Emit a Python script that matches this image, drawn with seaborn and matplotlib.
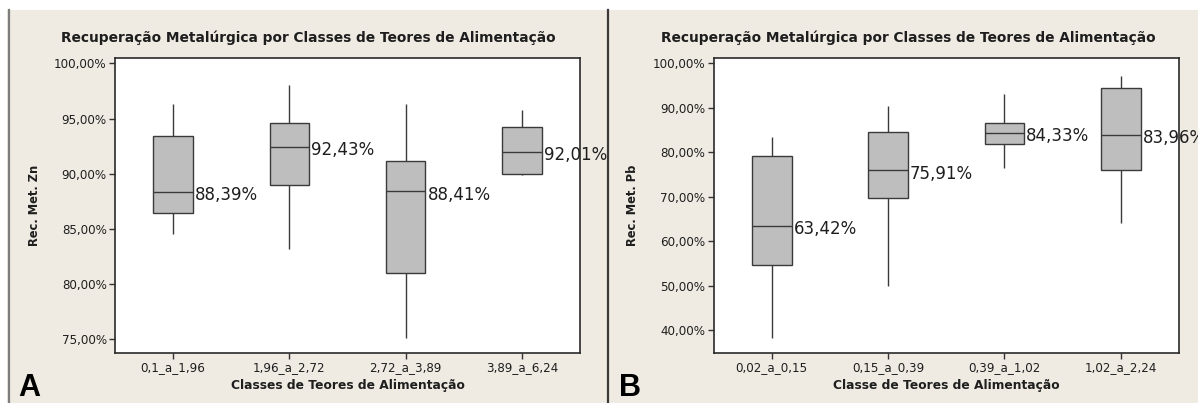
import numpy as np
import pandas as pd
import matplotlib
matplotlib.use("Agg")
import matplotlib.pyplot as plt
import seaborn as sns
from matplotlib.patches import Rectangle
from matplotlib.lines import Line2D
from matplotlib.ticker import FuncFormatter, FixedLocator

# ---------------- data (five-number summaries) ----------------
zn_classes = ["0,1_a_1,96", "1,96_a_2,72", "2,72_a_3,89", "3,89_a_6,24"]
zn_min = [84.50, 83.15, 75.15, 89.88]
zn_q1 = [86.41, 88.95, 81.04, 90.02]
zn_median = [88.39, 92.43, 88.41, 92.01]
zn_q3 = [93.45, 94.63, 91.12, 94.26]
zn_max = [96.29, 98.01, 96.35, 95.80]

pb_classes = ["0,02_a_0,15", "0,15_a_0,39", "0,39_a_1,02", "1,02_a_2,24"]
pb_min = [38.10, 49.97, 76.40, 64.15]
pb_q1 = [54.70, 69.60, 81.78, 76.00]
pb_median = [63.42, 75.91, 84.33, 83.96]
pb_q3 = [79.15, 84.55, 86.57, 94.40]
pb_max = [83.50, 90.40, 93.00, 97.05]

zn_ticks = [75, 80, 85, 90, 95, 100]
pb_ticks = [40, 50, 60, 70, 80, 90, 100]

title_text = "Recuperação Metalúrgica por Classes de Teores de Alimentação"

# ---------------- styling ----------------
plt.rcParams["font.family"] = ["DejaVu Sans"]
W, H = 1198, 403
BEIGE = "#efebe2"
BOX = "#bebebe"
LINE = "#3a3a3a"
TXT = "#1e1e1e"

fig = plt.figure(figsize=(W / 100, H / 100), dpi=100, facecolor=BEIGE)

def fx(x):
    return x / W

def fy(y):
    return 1 - y / H

# white margins, frame lines
fig.patches.append(Rectangle((0, fy(10)), 1, 10 / H, transform=fig.transFigure,
                             facecolor="white", edgecolor="none", zorder=0))
fig.patches.append(Rectangle((0, 0), 7 / W, 1, transform=fig.transFigure,
                             facecolor="white", edgecolor="none", zorder=0))
fig.lines.append(Line2D([fx(8.5), fx(8.5)], [0, fy(10)], transform=fig.transFigure,
                        color="#7d7d7d", lw=1.6))
fig.lines.append(Line2D([fx(607.5), fx(607.5)], [0, fy(10)], transform=fig.transFigure,
                        color="#3a3a3a", lw=1.6))

pct_fmt = FuncFormatter(lambda v, _: f"{v:.2f}".replace(".", ",") + "%")


def draw_panel(ax, classes, mins, q1, med, q3, maxs, ylim, ticks,
               ylabel, xlabel, title_cx, letter, letter_x):
    df = pd.DataFrame({
        "classe": np.repeat(classes, 5),
        "rec": np.column_stack([mins, q1, med, q3, maxs]).ravel(),
    })
    sns.boxplot(data=df, x="classe", y="rec", order=classes, whis=(0, 100),
                width=0.34, color=BOX, linecolor=LINE, linewidth=1.0,
                saturation=1, showcaps=False, ax=ax)
    ax.set_facecolor("white")
    ax.set_xlim(-0.5, 3.5)
    ax.set_ylim(*ylim)
    ax.yaxis.set_major_locator(FixedLocator(ticks))
    ax.yaxis.set_major_formatter(pct_fmt)
    for s in ax.spines.values():
        s.set_visible(True)
        s.set_color("#2a2a2a")
        s.set_linewidth(1.2)
    ax.tick_params(axis="both", direction="out", length=4, width=1.0,
                   color="#333333", labelsize=8.6, labelcolor=TXT, pad=2)
    ax.set_ylabel(ylabel, fontsize=8.3, fontweight="bold", color=TXT)
    ax.yaxis.label.set_va("center")
    ax.yaxis.set_label_coords(-0.174, 0.5)
    ax.set_xlabel(xlabel, fontsize=8.8, fontweight="bold", color=TXT)
    ax.xaxis.label.set_va("center")
    ax.xaxis.set_label_coords(0.5, -0.11)
    for i, m in enumerate(med):
        ax.annotate(f"{m:.2f}".replace(".", ",") + "%", xy=(i + 0.17, m),
                    xytext=(1.5, -6), textcoords="offset points",
                    ha="left", va="baseline", fontsize=12, color=TXT,
                    annotation_clip=False)
    fig.text(fx(title_cx), fy(38), title_text, ha="center", va="center",
             fontsize=9.9, fontweight="bold", color=TXT)
    fig.text(fx(letter_x), fy(396.5), letter, ha="left", va="baseline",
             fontsize=22, fontweight="bold", family=["Liberation Sans", "DejaVu Sans"],
             color="black")


axA = fig.add_axes([fx(115), fy(352.7), 465 / W, 295 / H])
draw_panel(axA, zn_classes, zn_min, zn_q1, zn_median, zn_q3, zn_max,
           (73.79, 100.51), zn_ticks, "Rec. Met. Zn",
           "Classes de Teores de Alimentação", 308, "A", 18)

axB = fig.add_axes([fx(713.6), fy(352.7), 465.4 / W, 295 / H])
draw_panel(axB, pb_classes, pb_min, pb_q1, pb_median, pb_q3, pb_max,
           (34.9, 101.27), pb_ticks, "Rec. Met. Pb",
           "Classe de Teores de Alimentação", 908, "B", 619)

fig.savefig("out.png", dpi=100, facecolor=fig.get_facecolor())
